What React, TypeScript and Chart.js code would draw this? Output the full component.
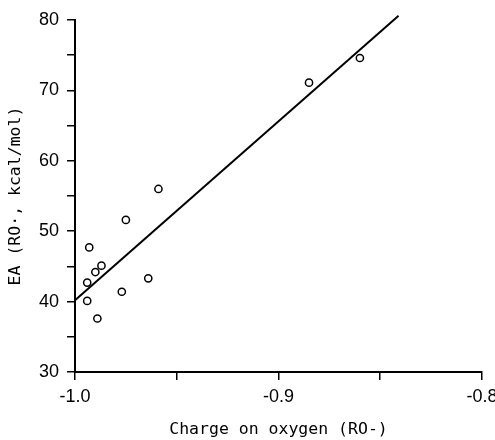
import React, { useEffect, useRef } from "react";
import { Chart, registerables } from "chart.js";

Chart.register(...registerables);

const chargeValues = [-0.959, -0.975, -0.993, -0.99, -0.987, -0.994, -0.994, -0.989, -0.977, -0.964, -0.885, -0.86];
const eaValues = [56.0, 51.6, 47.7, 44.2, 45.1, 42.7, 40.1, 37.6, 41.4, 43.3, 71.1, 74.6];
const fitCharge = [-1.0, -0.841];
const fitEA = [40.2, 80.6];

const xTitle = "Charge on oxygen (RO-)";
const yTitle = "EA (RO·, kcal/mol)";

export default function App() {
  const ref = useRef<HTMLCanvasElement | null>(null);

  useEffect(() => {
    document.body.style.margin = "0";
    const ctx = ref.current!;
    const chart = new Chart(ctx, {
      type: "scatter",
      data: {
        datasets: [
          {
            data: chargeValues.map((x, i) => ({ x, y: eaValues[i] })),
            pointRadius: 3.6,
            pointBorderWidth: 1.5,
            pointBorderColor: "#000",
            pointBackgroundColor: "#fff",
            showLine: false,
          },
          {
            data: fitCharge.map((x, i) => ({ x, y: fitEA[i] })),
            showLine: true,
            borderColor: "#000",
            borderWidth: 2,
            pointRadius: 0,
            clip: false as any,
          },
        ],
      },
      options: {
        responsive: false,
        animation: false,
        layout: { padding: { left: 0, right: 13, top: 20, bottom: 0 } },
        plugins: { legend: { display: false }, tooltip: { enabled: false } },
        scales: {
          x: {
            type: "linear",
            min: -1.0,
            max: -0.8,
            afterFit: (s: any) => {
              s.height = 68;
              s.paddingLeft = 0;
              s.paddingRight = 0;
            },
            ticks: {
              stepSize: 0.05,
              color: "#000",
              padding: 6,
              maxRotation: 0,
              autoSkip: false,
              font: { family: "Liberation Sans", size: 18 },
              callback: (v: any) => {
                const n = Number(v);
                return Math.abs(n * 10 - Math.round(n * 10)) < 1e-6 ? n.toFixed(1) : "";
              },
            },
            grid: {
              display: true,
              drawOnChartArea: false,
              drawTicks: true,
              tickLength: 8,
              color: "#000",
              lineWidth: 1.5,
            },
            border: { display: true, color: "#000", width: 2 },
            title: {
              display: true,
              text: xTitle,
              color: "#000",
              padding: { top: 0, bottom: 0 },
              font: { family: "DejaVu Sans Mono", size: 16.5 },
            },
          },
          y: {
            type: "linear",
            min: 30,
            max: 80,
            afterFit: (s: any) => {
              s.width = 75;
              s.paddingTop = 0;
              s.paddingBottom = 0;
            },
            ticks: {
              stepSize: 5,
              color: "#000",
              padding: 8,
              autoSkip: false,
              font: { family: "Liberation Sans", size: 18 },
              callback: (v: any) => (Number(v) % 10 === 0 ? String(v) : ""),
            },
            grid: {
              display: true,
              drawOnChartArea: false,
              drawTicks: true,
              tickLength: 8,
              color: "#000",
              lineWidth: 1.5,
            },
            border: { display: true, color: "#000", width: 2 },
            title: {
              display: true,
              text: yTitle,
              color: "#000",
              padding: { top: 6, bottom: 0 },
              font: { family: "DejaVu Sans Mono", size: 16.5 },
            },
          },
        },
      },
    });
    return () => chart.destroy();
  }, []);

  return (
    <div style={{ position: "absolute", left: 0, top: 0, width: 495, height: 440, background: "#fff" }}>
      <canvas ref={ref} width={495} height={440} />
    </div>
  );
}
